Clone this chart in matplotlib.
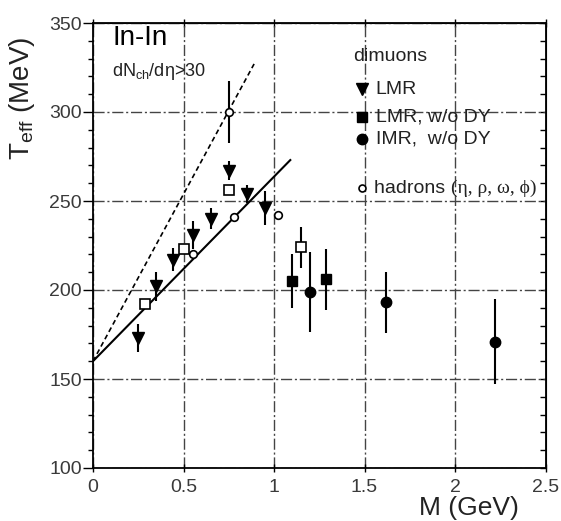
import matplotlib.pyplot as plt
from matplotlib.ticker import MultipleLocator

plt.rcParams['font.family'] = ['Liberation Sans', 'DejaVu Sans']
plt.rcParams['mathtext.fontset'] = 'custom'
plt.rcParams['mathtext.rm'] = 'Liberation Sans'
plt.rcParams['mathtext.it'] = 'Liberation Sans:italic'

# dimuon LMR (with DY)
lmr_m = [0.25, 0.35, 0.44, 0.55, 0.65, 0.75, 0.85, 0.95]
lmr_t = [173, 202, 217, 231, 240, 267, 254, 246]
lmr_err = [8, 8, 6.5, 8, 6, 5.3, 5, 9.4]

# open squares
osq_m = [0.29, 0.50, 0.75, 1.15]
osq_t = [192, 223, 256, 224]
osq_err = [0, 0, 0, 11.4]

# LMR w/o DY
lmr_ndy_m = [1.10, 1.29]
lmr_ndy_t = [205, 206]
lmr_ndy_err = [15, 17]

# IMR w/o DY
imr_m = [1.20, 1.62, 2.22]
imr_t = [199, 193, 171]
imr_err = [22.5, 17.3, 24]

# hadrons
had_m = [0.55, 0.75, 0.78, 1.02]
had_t = [220, 300, 241, 242]
had_err = [0, 17.3, 0, 0]

# linear fits
fit_m = [0, 1.09]
fit_t = [160, 273]
fit2_m = [0, 0.89]
fit2_t = [160, 327]

fig = plt.figure(figsize=(5.61, 5.21), dpi=100)
ax = fig.add_axes([93 / 561, 1 - 468 / 521, 452.5 / 561, 445 / 521])

ax.set_xlim(0, 2.5)
ax.set_ylim(100, 350)
ax.set_xticks([0, 0.5, 1, 1.5, 2, 2.5])
ax.set_xticklabels(['0', '0.5', '1', '1.5', '2', '2.5'])
ax.set_yticks(range(100, 351, 50))
ax.yaxis.set_minor_locator(MultipleLocator(10))
ax.grid(True, which='major', color='#444444', lw=1, ls=(0, (8, 2, 1.5, 2)))
ax.set_axisbelow(True)

ax.tick_params(axis='y', which='major', direction='out', length=7, width=1,
               pad=1, labelsize=14, labelcolor='#3a3a3a')
ax.tick_params(axis='y', which='minor', direction='out', length=3.5, width=1)
ax.tick_params(axis='x', which='major', direction='inout', length=6, width=1,
               pad=5, labelsize=14, labelcolor='#3a3a3a')
for s in ax.spines.values():
    s.set_linewidth(1.3)

sec_y = ax.secondary_yaxis('right')
sec_y.yaxis.set_major_locator(MultipleLocator(10))
sec_y.tick_params(direction='in', length=4, width=1, labelright=False)
sec_x = ax.secondary_xaxis('top')
sec_x.xaxis.set_major_locator(MultipleLocator(0.5))
sec_x.tick_params(direction='inout', length=6, width=1, labeltop=False)

ax.plot(fit_m, fit_t, color='black', lw=1.5, zorder=3)
ax.plot(fit2_m, fit2_t, color='black', lw=1.2, dashes=(3, 2), zorder=3)

eb = dict(fmt='none', ecolor='black', elinewidth=1.5, capsize=0, zorder=4)
ax.errorbar(lmr_m, lmr_t, yerr=lmr_err, **eb)
ax.errorbar(osq_m, osq_t, yerr=osq_err, **eb)
ax.errorbar(lmr_ndy_m, lmr_ndy_t, yerr=lmr_ndy_err, **eb)
ax.errorbar(imr_m, imr_t, yerr=imr_err, **eb)
ax.errorbar(had_m, had_t, yerr=had_err, **eb)

ax.plot(lmr_m, lmr_t, 'v', color='black', ms=8, ls='none', zorder=5)
ax.plot(osq_m, osq_t, 's', mfc='white', mec='black', mew=1.2, ms=7, ls='none', zorder=5)
ax.plot(lmr_ndy_m, lmr_ndy_t, 's', color='black', ms=6.5, ls='none', zorder=5)
ax.plot(imr_m, imr_t, 'o', color='black', ms=7.5, ls='none', zorder=5)
ax.plot(had_m, had_t, 'o', mfc='white', mec='black', mew=1.2, ms=5.5, ls='none', zorder=5)

# labels
ax.text(0.042, 0.966, 'In-In', fontsize=20, ha='left', va='center', transform=ax.transAxes)
ax.text(0.042, 0.89, r'dN$_{\rm ch}$/dη>30', fontsize=13, ha='left', va='center',
        color='#222222', transform=ax.transAxes)
ax.text(-0.157, 0.83, r'T$_{\rm eff}$ (MeV)', fontsize=20, rotation=90,
        ha='center', va='center', color='#222222', transform=ax.transAxes)
ax.text(0.831, -0.09, 'M (GeV)', fontsize=19, ha='center', va='center',
        color='#222222', transform=ax.transAxes)

# legend
tx = 0.625
mx = 0.594
ax.text(0.574, 0.924, 'dimuons', fontsize=14, ha='left', va='center',
        color='#222222', transform=ax.transAxes)
ax.plot(mx, 0.851, 'v', color='black', ms=8, transform=ax.transAxes, clip_on=False)
ax.text(tx, 0.851, 'LMR', fontsize=14, ha='left', va='center',
        color='#222222', transform=ax.transAxes)
ax.plot(mx, 0.789, 's', color='black', ms=6.5, transform=ax.transAxes, clip_on=False)
ax.text(tx, 0.789, 'LMR, w/o DY', fontsize=14, ha='left', va='center',
        color='#222222', transform=ax.transAxes)
ax.plot(mx, 0.739, 'o', color='black', ms=7.5, transform=ax.transAxes, clip_on=False)
ax.text(tx, 0.739, 'IMR,  w/o DY', fontsize=14, ha='left', va='center',
        color='#222222', transform=ax.transAxes)
ax.plot(mx, 0.629, 'o', mfc='white', mec='black', mew=1.2, ms=5, transform=ax.transAxes,
        clip_on=False)
h = ax.text(tx - 0.003, 0.629, 'hadrons ', fontsize=14, ha='left', va='center',
            color='#222222', transform=ax.transAxes)
ax.annotate('(η, ρ, ω, ϕ)', xy=(1, 0.5), xycoords=h, fontsize=14, ha='left', va='center',
            color='#222222', family=['Liberation Serif', 'DejaVu Serif'])

fig.savefig('out.png', dpi=100)
